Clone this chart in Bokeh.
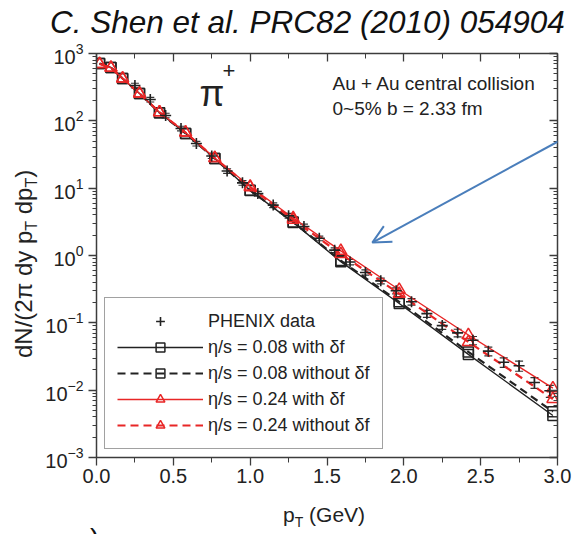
import numpy as np
from bokeh.plotting import figure
from bokeh.layouts import column, row
from bokeh.models import (ColumnDataSource, LinearAxis, LogAxis, LogTicker,
                          SingleIntervalTicker, PrintfTickFormatter, Legend,
                          LegendItem, Label, Arrow, OpenHead, Whisker, TeeHead,
                          CustomJSTickFormatter, Div)
from bokeh.embed import file_html
from bokeh.resources import INLINE

# ---------------- data ----------------
pt_model = [0.02, 0.094, 0.17, 0.28, 0.41, 0.58, 0.77, 1.0, 1.28, 1.59, 1.97, 2.42, 2.97]
eta008_df = [710, 620, 425, 255, 132, 65, 27.5, 9.2, 3.1, 0.81, 0.194, 0.034, 0.0042]
eta008_nodf = [710, 620, 425, 255, 132, 65, 27.5, 9.3, 3.15, 0.84, 0.205, 0.037, 0.0048]
eta024_df = [700, 615, 425, 255, 134, 67, 28, 10.6, 3.6, 1.17, 0.31, 0.066, 0.0107]
eta024_nodf = [700, 615, 425, 255, 134, 67, 28, 10.3, 3.4, 1.05, 0.27, 0.052, 0.0074]

pt_data = [0.25, 0.35, 0.45, 0.55, 0.65, 0.75, 0.85, 0.95, 1.05, 1.15,
           1.25, 1.35, 1.45, 1.55, 1.65, 1.75, 1.85, 1.95, 2.05, 2.15,
           2.25, 2.35, 2.45, 2.55, 2.65, 2.75, 2.85, 2.95]
phenix = [335, 207, 120, 77, 46, 30, 18, 12, 8.3, 5.6,
          3.9, 2.7, 1.8, 1.2, 0.8, 0.56, 0.42, 0.30, 0.206, 0.137,
          0.091, 0.071, 0.055, 0.038, 0.026, 0.023, 0.013, 0.0098]
phenix_relerr = [0.08, 0.08, 0.08, 0.08, 0.08, 0.08, 0.08, 0.08, 0.08, 0.08,
                 0.08, 0.08, 0.08, 0.08, 0.09, 0.09, 0.10, 0.10, 0.11, 0.12,
                 0.12, 0.13, 0.14, 0.15, 0.16, 0.17, 0.18, 0.20]

x_ticks_interval = 0.5
title_text = "C. Shen et al. PRC82 (2010) 054904"
legend_labels = ["PHENIX data", "η/s = 0.08 with δf", "η/s = 0.08 without δf",
                 "η/s = 0.24 with δf", "η/s = 0.24 without δf"]

# ---------------- page geometry ----------------
W, H = 583, 534
TITLE_H = 40            # title strip on top
YLAB_W = 40             # y-label strip on the left
FRAME_L, FRAME_T = 96, 53   # frame position on the page
FW, FH = 461, 404
BOT_BORDER = 36
FIG_W = W - YLAB_W
FIG_H = (FRAME_T - TITLE_H) + FH + BOT_BORDER
XLAB_H = H - TITLE_H - FIG_H
FRAME_B = FRAME_T + FH      # 457 on the page

p = figure(frame_width=FW, frame_height=FH,
           min_border_left=FRAME_L - YLAB_W, min_border_right=FIG_W - (FRAME_L - YLAB_W) - FW,
           min_border_top=FRAME_T - TITLE_H, min_border_bottom=BOT_BORDER,
           x_range=(0, 3), y_range=(1e-3, 1e3), y_axis_type="log",
           output_backend="svg", toolbar_location=None)
p.title.visible = False
p.margin = 0
p.xgrid.visible = False
p.ygrid.visible = False
p.outline_line_color = None
p.background_fill_color = "white"
p.border_fill_color = "white"

AX = "#3c3c3c"
TF = "Liberation Sans"

xa = p.xaxis[0]
xa.ticker = SingleIntervalTicker(interval=x_ticks_interval, num_minor_ticks=2)
xa.formatter = PrintfTickFormatter(format="%.1f")
ya = p.yaxis[0]
ya.ticker = LogTicker(num_minor_ticks=10)
for ax in (xa, ya):
    ax.axis_line_color = AX
    ax.axis_line_width = 1.5
    ax.major_tick_line_color = AX
    ax.minor_tick_line_color = AX
    ax.major_tick_line_width = 1.3
    ax.minor_tick_line_width = 1.0
    ax.major_tick_in = 0
    ax.major_tick_out = 8
    ax.minor_tick_in = 0
    ax.minor_tick_out = 4
    ax.major_label_text_font = TF
    ax.major_label_text_font_size = "20px"
    ax.major_label_text_color = "#222222"
xa.minor_tick_out = 5
xa.major_label_standoff = 3
ya.major_label_standoff = 5

blank = CustomJSTickFormatter(code="return ''")
top = LinearAxis(ticker=SingleIntervalTicker(interval=x_ticks_interval, num_minor_ticks=2),
                 formatter=blank, major_label_text_font_size="0px")
right = LogAxis(ticker=LogTicker(num_minor_ticks=10), formatter=blank,
                major_label_text_font_size="0px")
for ax in (top, right):
    ax.axis_line_color = AX
    ax.axis_line_width = 1.5
    ax.major_tick_line_color = AX
    ax.minor_tick_line_color = AX
    ax.major_tick_line_width = 1.3
    ax.minor_tick_line_width = 1.0
    ax.major_tick_in = 8
    ax.major_tick_out = 0
    ax.minor_tick_in = 4
    ax.minor_tick_out = 0
    ax.major_label_standoff = 0
top.minor_tick_in = 5
p.add_layout(top, "above")
p.add_layout(right, "right")

# ---------------- glyphs ----------------
BLACK = "#222222"
RED = "#e82626"

def model(vals, color, dash, width, marker):
    src = ColumnDataSource(dict(x=pt_model, y=vals))
    ln = p.line("x", "y", source=src, line_color=color, line_width=width, line_dash=dash)
    sc = p.scatter("x", "y", source=src, marker=marker, size=10 if marker == "square" else 12,
                   fill_color=None, line_color=color, line_width=1.5)
    return [ln, sc]

r1 = model(eta008_df, BLACK, "solid", 1.4, "square")
r2 = model(eta008_nodf, BLACK, "8 5", 2.2, "square")
r3 = model(eta024_df, RED, "solid", 1.4, "triangle")
r4 = model(eta024_nodf, RED, "8 5", 2.2, "triangle")

up = [v * (1 + e) for v, e in zip(phenix, phenix_relerr)]
lo = [v * (1 - e) for v, e in zip(phenix, phenix_relerr)]
dsrc = ColumnDataSource(dict(x=pt_data, y=phenix, upper=up, lower=lo))
wk = Whisker(source=dsrc, base="x", upper="upper", lower="lower",
             line_color="#333333", line_width=1.2,
             upper_head=TeeHead(size=8, line_color="#333333", line_width=1.2),
             lower_head=TeeHead(size=8, line_color="#333333", line_width=1.2))
p.add_layout(wk)
rd = p.scatter("x", "y", source=dsrc, marker="cross", size=11, line_color="#222222",
               line_width=1.6)

# ---------------- legend ----------------
legend = Legend(items=[LegendItem(label=legend_labels[0], renderers=[rd]),
                       LegendItem(label=legend_labels[1], renderers=r1),
                       LegendItem(label=legend_labels[2], renderers=r2),
                       LegendItem(label=legend_labels[3], renderers=r3),
                       LegendItem(label=legend_labels[4], renderers=r4)],
                location="bottom_left", orientation="vertical")
legend.margin = 8
legend.padding = 12
legend.glyph_width = 86
legend.glyph_height = 22
legend.label_height = 22
legend.spacing = 4
legend.label_standoff = 5
legend.label_text_font = TF
legend.label_text_font_size = "18px"
legend.label_text_color = "#222222"
legend.border_line_color = "#444444"
legend.border_line_width = 1.5
legend.background_fill_alpha = 1.0
p.add_layout(legend, "center")

# ---------------- in-frame texts ----------------
def lab(text, cx, baseline, size, color="#222222"):
    """cx, baseline: page pixels (y from top); anchored at the text's middle."""
    cy = baseline - 0.3465 * size
    p.add_layout(Label(x=cx - FRAME_L, y=FRAME_B - cy, x_units="screen", y_units="screen",
                       text=text, text_font=TF, text_font_size=f"{size}px", text_color=color,
                       text_align="left", text_baseline="middle"))

lab("Au + Au central collision", 332, 90, 19)
lab("0~5% b = 2.33 fm", 332, 115, 19)
lab("π", 199, 105, 36)
lab("+", 222, 78, 22)

# blue arrow
arrow = Arrow(end=OpenHead(size=18, line_color="#4a7ebb", line_width=2),
              x_start=3.17, y_start=79.5, x_end=1.795, y_end=1.556,
              line_color="#4a7ebb", line_width=2)
p.add_layout(arrow)

# ---------------- texts outside the frame (SVG text in Divs) ----------------
title_svg = (f'<svg width="{W}" height="{TITLE_H}" xmlns="http://www.w3.org/2000/svg">'
             f'<text x="50" y="33" font-family="Open Sans" font-style="italic" '
             f'font-size="31.5" fill="#111111">{title_text}</text></svg>')
title_div = Div(text=title_svg, width=W, height=TITLE_H, margin=0)

yb_x, yb_y = 32, 358 - TITLE_H
ylab_svg = (f'<svg width="{YLAB_W}" height="{FIG_H}" xmlns="http://www.w3.org/2000/svg">'
            f'<text x="{yb_x}" y="{yb_y}" transform="rotate(-90 {yb_x} {yb_y})" '
            f'font-family="Liberation Sans" font-size="24" fill="#222222">dN/(2π dy p'
            f'<tspan font-size="16" dy="5">T</tspan><tspan dy="-5"> dp</tspan>'
            f'<tspan font-size="16" dy="5">T</tspan><tspan dy="-5">)</tspan></text></svg>')
ylab_div = Div(text=ylab_svg, width=YLAB_W, height=FIG_H, margin=0)

xoff = TITLE_H + FIG_H
xlab_svg = (f'<svg width="{W}" height="{XLAB_H}" xmlns="http://www.w3.org/2000/svg">'
            f'<text x="283" y="{522 - xoff}" font-family="Liberation Sans" font-size="21" '
            f'fill="#222222">p<tspan font-size="14" dy="5">T</tspan>'
            f'<tspan dy="-5"> (GeV)</tspan></text>'
            f'<text x="90" y="{548 - xoff}" font-family="Liberation Sans" font-size="28" '
            f'fill="#111111">)</text></svg>')
xlab_div = Div(text=xlab_svg, width=W, height=XLAB_H, margin=0)

layout = column(title_div, row(ylab_div, p, spacing=0), xlab_div, spacing=0)

open("out.html", "w").write(file_html(layout, INLINE))
